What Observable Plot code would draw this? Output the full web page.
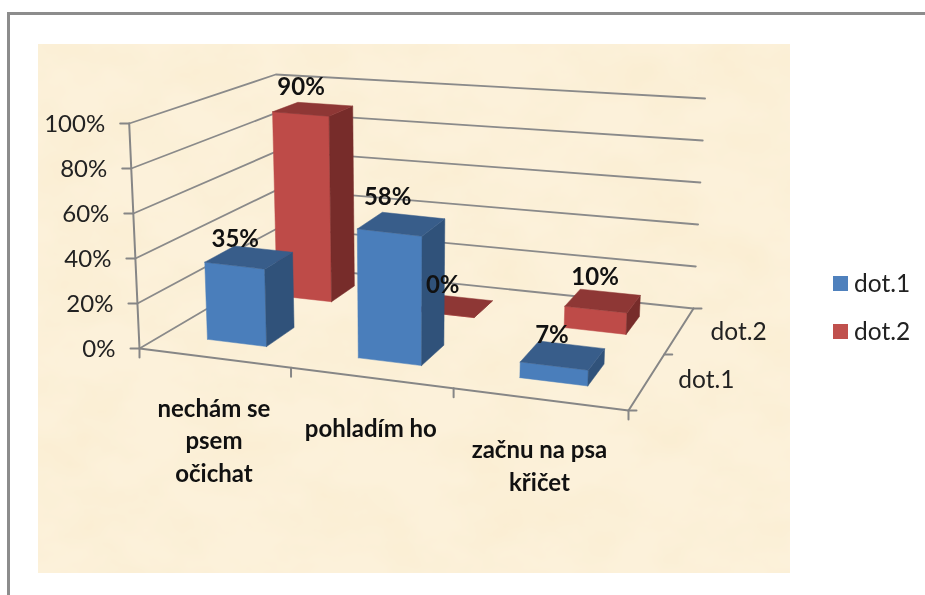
<!DOCTYPE html>
<html><head><meta charset="utf-8">
<script src="https://cdn.jsdelivr.net/npm/d3@7"></script>
<script src="https://cdn.jsdelivr.net/npm/@observablehq/plot@0.6"></script>
<style>
html,body{margin:0;padding:0;background:#fff;width:925px;height:595px;overflow:hidden}
#frame{position:absolute;left:7px;top:12px;right:-5px;bottom:-5px;border:3px solid #8c8c8c}
#paper{position:absolute;left:38px;top:44px;width:752px;height:529px;background-color:#fcf1da;overflow:hidden}
#paper svg{position:absolute;left:0;top:0}
#chart{position:absolute;left:0;top:0;filter:blur(.45px)}
.lg{position:absolute;font:24.5px Lato,sans-serif;color:#222;line-height:24px;filter:blur(.35px)}
.sw{position:absolute;width:15px;height:15px}
</style></head><body>
<div id="frame"></div>
<div id="paper"><svg width="752" height="529"><filter id="t" x="0" y="0" width="100%" height="100%"><feTurbulence type="fractalNoise" baseFrequency="0.012 0.018" numOctaves="4" seed="7"/><feColorMatrix values="0 0 0 0 .93  0 0 0 0 .80  0 0 0 0 .55  .7 0 0 0 -.26"/></filter><rect width="752" height="529" filter="url(#t)"/></svg></div>
<div id="chart"></div>
<div class="sw" style="left:833px;top:276px;background:#4f81bd"></div><div class="lg" style="left:854px;top:271px">dot.1</div>
<div class="sw" style="left:833px;top:324px;background:#c0504d"></div><div class="lg" style="left:854px;top:319px">dot.2</div>
<script>
const categories = ["nechám se\npsem\nočichat", "pohladím ho", "začnu na psa\nkřičet"];
const seriesNames = ["dot.1", "dot.2"];
const dot1Values = [35, 58, 7];
const dot2Values = [90, 0, 10];
const valueTicks = [0, 20, 40, 60, 80, 100];

// Look of the 3-D box: floor corners on the page, height of the 100 % level at each
const floorCorners = [[139,348],[628,410],[693,308],[280,265]];
const cornerHeights = [225,228,210,191];
const leanOrigin = 400, leanRate = 0.0395;
const barShare = 0.4;
const palette = {
  "dot.1": {front:"#4a7ebb", side:"#30527a", top:"#385d8a"},
  "dot.2": {front:"#be4b48", side:"#772c2a", top:"#8e3735"}
};
// label nudges from top-face centre [dot.1 ×3, dot.2 ×3]
const labelNudge = {"dot.1":[[-14,-18],[-14,-27],[-11,-20]], "dot.2":[[-12,-22],[-12,-21],[-8,-23]]};
const depthNudge = [[-2,0],[-2,3]];

function quad(c){
  const [[x0,y0],[x1,y1],[x2,y2],[x3,y3]] = c;
  const sx=x0-x1+x2-x3, sy=y0-y1+y2-y3, dx1=x1-x2, dx2=x3-x2, dy1=y1-y2, dy2=y3-y2;
  const det=dx1*dy2-dx2*dy1, g=(sx*dy2-dx2*sy)/det, h=(dx1*sy-sx*dy1)/det;
  const a=x1-x0+g*x1, b=x3-x0+h*x3, d=y1-y0+g*y1, e=y3-y0+h*y3;
  return (u,v)=>{const w=g*u+h*v+1; return [(a*u+b*v+x0)/w,(d*u+e*v+y0)/w];};
}
const H0=quad(floorCorners);
// u = category position 0..3, v = series position 0..2, val = percent
function P(u,v,val){
  const U=u/3,V=v/2,p=H0(U,V),t=val/100;
  const [a,b,c,d]=cornerHeights;
  const ht=(a*(1-U)+b*U)*(1-V)+(d*(1-U)+c*U)*V;
  return {x:p[0]+(p[0]-leanOrigin)*leanRate*t, y:p[1]-ht*t};
}
const axisStroke={stroke:"#868686",strokeWidth:2,curve:"linear"};
const gridStroke={stroke:"#8a8a8a",strokeWidth:1.8,curve:"linear"};
const XY={x:"x",y:"y"};
const marks=[];
const line=(pts,o)=>marks.push(Plot.line(pts,{...XY,...o}));

valueTicks.forEach(t=>{
  line([P(0,0,t),P(0,2,t),P(3,2,t)],gridStroke);
  const a=P(0,0,t);
  line([{x:a.x-9,y:a.y},a],axisStroke);
});
line([P(0,0,0),P(0,0,100)],axisStroke);
line([P(0,0,0),P(3,0,0),P(3,2,0)],axisStroke);
[0,1,2,3].forEach(u=>{const a=P(u,0,0);line([a,{x:a.x,y:a.y+9}],axisStroke);});
[0,1,2].forEach(v=>{const a=P(3,v,0);line([a,{x:a.x+8,y:a.y}],axisStroke);});

// bars, back row first
[[1,dot2Values],[0,dot1Values]].forEach(([s,vals])=>{
  const col=palette[seriesNames[s]];
  vals.forEach((val,c)=>{
    const u0=c+.5-barShare/2,u1=c+.5+barShare/2,v0=s+.5-barShare/2,v1=s+.5+barShare/2;
    const face=(pts,fill)=>line([...pts,pts[0]],{fill,stroke:fill,strokeWidth:.5,curve:"linear"});
    face([P(u0,v0,0),P(u1,v0,0),P(u1,v0,val),P(u0,v0,val)],col.front);
    face([P(u1,v0,0),P(u1,v1,0),P(u1,v1,val),P(u1,v0,val)],col.side);
    face([P(u0,v0,val),P(u1,v0,val),P(u1,v1,val),P(u0,v1,val)],col.top);
  });
});

// text
const tickLabels=valueTicks.map(t=>{const a=P(0,0,t);return {x:a.x-24,y:a.y+.5,text:t+"%"};});
marks.push(Plot.text(tickLabels,{...XY,text:"text",textAnchor:"end",fontSize:24,fill:"#222",fontFamily:"Lato"}));
const catLabels=categories.map((text,c)=>{const a=P(c+.5,0,0);return {x:a.x,y:a.y+36,text};});
marks.push(Plot.text(catLabels,{...XY,text:"text",lineAnchor:"top",lineHeight:1.35,fontSize:24,fontWeight:700,fill:"#111",fontFamily:"Lato"}));
const depthLabels=seriesNames.map((text,s)=>{const a=P(3,s+.5,0),n=depthNudge[s];return {x:a.x+33+n[0],y:a.y-1+n[1],text};});
marks.push(Plot.text(depthLabels,{...XY,text:"text",textAnchor:"start",fontSize:24.5,fill:"#222",fontFamily:"Lato"}));
const dataLabels=[];
[[0,dot1Values],[1,dot2Values]].forEach(([s,vals])=>vals.forEach((val,c)=>{
  const a=P(c+.5,s+.5,val),n=labelNudge[seriesNames[s]][c];
  dataLabels.push({x:a.x+n[0],y:a.y+n[1],text:val+"%"});
}));
marks.push(Plot.text(dataLabels,{...XY,text:"text",fontSize:24,fontWeight:700,fill:"#111",fontFamily:"Lato"}));

const plot=Plot.plot({width:925,height:595,margin:0,
  x:{domain:[0,925],range:[0,925],axis:null},
  y:{domain:[0,595],range:[0,595],axis:null},
  style:{background:"transparent"},marks});
document.getElementById("chart").appendChild(plot);
</script></body></html>
